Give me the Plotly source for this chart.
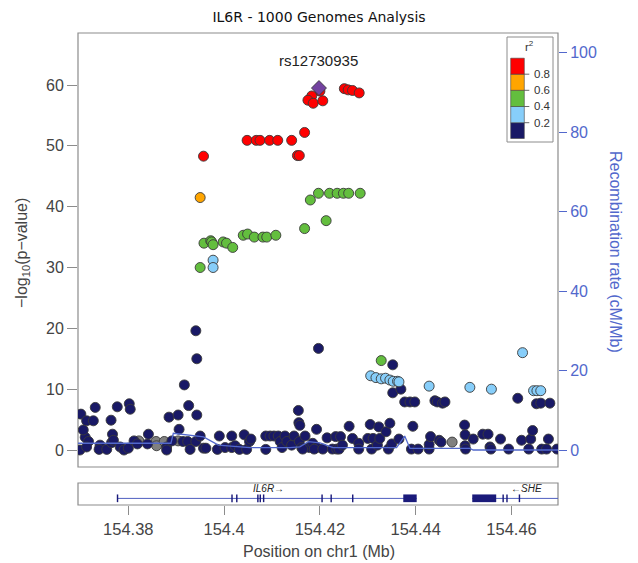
import plotly.graph_objects as go

# ---------------- data ----------------
navy_pos = [154.3699,154.3710,154.3717,154.3713,154.3706,154.3701,154.3731,154.3713,154.3727,154.3741,
            154.3739,154.3755,154.3764,154.3767,154.3765,154.3769,154.3777,154.3783,154.3791,154.3800,
            154.3802,154.3804,154.3812,154.3819,154.3840,154.3842,154.3880,154.3880,154.3885,154.3891,
            154.3904,154.3906,154.3914,154.3917,154.3924,154.3926,154.3929,154.3941,154.3943,154.3943,
            154.3941,154.3950,154.3957,154.3962,154.3986,154.3990,154.4002,154.4016,154.4016,154.4023,
            154.4032,154.4042,154.4047,154.4053,154.4056,154.4087,154.4087,154.4096,154.4104,154.4113,
            154.4117,154.4121,154.4127,154.4131,154.4141,154.4146,154.4155,154.4156,154.4158,154.4157,
            154.4162,154.4169,154.4178,154.4185,154.4193,154.4193,154.4197,154.4164,154.4188,154.4206,
            154.4226,154.4235,154.4240,154.4215,154.4233,154.4243,154.4247,154.4261,154.4268,154.4281,
            154.4281,154.4300,154.4305,154.4308,154.4311,154.4320,154.4323,154.4325,154.4338,154.4343,
            154.4346,154.4350,154.4352,154.4352,154.4365,154.4369,154.4377,154.4388,154.4398,154.4391,
            154.4394,154.4405,154.4428,154.4428,154.4431,154.4440,154.4445,154.4456,154.4461,154.4449,
            154.4453,154.4502,154.4503,154.4503,154.4504,154.4520,154.4540,154.4551,154.4555,154.4557,
            154.4577,154.4594,154.4613,154.4621,154.4636,154.4640,154.4644,154.4652,154.4661,154.4680,
            154.4663,154.4673,154.4677,154.4695]
navy_logp = [0.0,2.1,1.4,0.5,3.3,5.9,7.0,4.8,4.8,0.8,
             0.1,0.1,4.9,2.6,1.2,1.6,7.1,0.5,0.0,0.3,
             7.6,6.7,1.5,1.0,1.0,2.6,0.5,0.0,5.4,1.5,
             5.75,3.4,1.4,10.7,1.4,7.3,0.1,19.6,15.0,5.75,
             1.4,2.3,0.3,0.3,0.1,2.3,0.4,2.3,0.4,0.7,
             0.1,2.5,0.1,1.4,1.8,2.3,0.1,2.3,2.3,2.3,
             1.4,0.4,2.3,1.4,0.8,2.3,6.5,4.5,4.05,1.4,
             0.4,2.3,0.4,1.1,0.4,3.4,16.7,0.15,0.15,0.15,
             0.15,0.15,0.15,2.0,2.2,2.2,0.8,3.9,1.9,1.1,
             0.15,1.9,4.2,0.15,1.9,0.8,3.8,1.9,3.0,0.15,
             4.4,1.0,14.0,9.4,1.8,10.0,7.9,7.9,7.9,0.15,
             3.9,0.15,0.15,0.9,2.2,8.1,7.9,7.7,7.9,1.6,
             1.3,4.1,2.5,0.7,0.15,1.8,2.6,2.6,0.5,0.15,
             1.8,0.15,8.5,1.6,0.15,1.8,3.2,7.6,7.7,7.7,
             0.15,0.15,1.8,0.15]

gray_pos = [154.3822,154.3858,154.3859,154.3875,154.3904,154.4476]
gray_logp = [1.5,1.4,0.7,1.4,1.5,1.3]

lblue_pos = [154.3977,154.3977,154.4306,154.4317,154.4328,154.4337,154.4346,154.4353,154.4362,154.4365,
             154.4428,154.4513,154.4558,154.4623,154.4646,154.4653,154.4661]
lblue_logp = [31.2,30.0,12.2,11.9,11.7,11.8,11.5,11.3,11.3,11.2,
              10.5,10.3,10.0,16.0,9.75,9.75,9.75]

green_pos = [154.4328,154.4180,154.4197,154.4220,154.4236,154.4249,154.4260,154.4284,154.4213,154.4168,
             154.4040,154.4049,154.4063,154.4081,154.4089,154.4108,154.3958,154.3972,154.3974,154.3977,
             154.3998,154.4005,154.4018,154.3950]
green_logp = [14.7,41.1,42.2,42.2,42.2,42.2,42.2,42.2,37.7,36.4,
              35.3,35.5,35.0,35.0,35.0,35.3,34.0,34.4,34.2,33.75,
              34.2,34.0,33.3,30.0]

orange_pos = [154.3950]
orange_logp = [41.5]

red_pos = [154.3957,154.4200,154.4183,154.4175,154.4186,154.4206,154.4251,154.4259,154.4268,154.4282,
           154.4048,154.4067,154.4075,154.4095,154.4112,154.4141,154.4168,154.4153,154.4157]
red_logp = [48.3,59.0,58.2,57.5,57.0,57.4,59.4,59.2,59.1,58.7,
            50.9,50.9,50.9,50.9,50.9,50.9,52.2,48.4,48.4]

lead_snp = "rs12730935"
lead_pos = [154.4198]
lead_logp = [59.5]

recomb_pos = [154.3695,154.3889,154.3894,154.3920,154.3957,154.3988,154.4054,154.4137,154.4158,154.4176,
              154.4200,154.4213,154.4227,154.4360,154.4377,154.4388,154.4513,154.4520,154.4697]
recomb_rate = [1.7,1.7,4.2,3.8,3.3,1.25,0.6,0.6,0.8,2.1,
               1.8,1.25,0.6,0.6,3.5,0.4,0.4,0.0,0.0]

genes = ["IL6R", "SHE"]
gene_start = [154.3777, 154.4518]
gene_end = [154.4402, 154.4745]
gene_strand = ["+", "-"]
gene_label_pos = [154.4092, 154.4632]
exon_starts = [[154.3776,154.4015,154.4025,154.4069,154.4074,154.4081,154.4203,154.4222,154.4267,154.4374],
               [154.4518,154.4581,154.4589,154.4615]]
exon_ends = [[154.3779,154.4018,154.4028,154.4072,154.4077,154.4084,154.4206,154.4225,154.4270,154.4402],
             [154.4568,154.4584,154.4592,154.4618]]

ld_colors = ["#191966", "#87CEFA", "#63BE3E", "#FFA500", "#FF0000"]
ld_labels = ["0.2", "0.4", "0.6", "0.8"]
x_ticks = [154.38, 154.40, 154.42, 154.44, 154.46]
x_ticktext = ["154.38", "154.4", "154.42", "154.44", "154.46"]
y_ticks = [0, 10, 20, 30, 40, 50, 60]
recomb_ticks = [0, 20, 40, 60, 80, 100]

# ---------------- layout geometry ----------------
W, H = 638, 563
ML, MR, MT, MB = 78, 80, 33, 58
PW, PH = W - ML - MR, H - MT - MB
X_RANGE = [154.3695, 154.4697]
FONT = "Liberation Sans, Arial"


def px(xp):
    return (xp - ML) / PW


def py(yp):
    return (H - MB - yp) / PH


main_bottom = py(467)
gene_top = py(483)

fig = go.Figure()

RECOMB_COLOR = "#5268CC"
fig.add_trace(go.Scatter(x=recomb_pos, y=recomb_rate, mode="lines", yaxis="y3",
                         line=dict(color=RECOMB_COLOR, width=1.3), hoverinfo="skip", showlegend=False))

def add_pts(xs, ys, color, symbol="circle", size=10):
    fig.add_trace(go.Scatter(x=xs, y=ys, mode="markers", yaxis="y", showlegend=False,
                             marker=dict(color=color, size=size, symbol=symbol,
                                         line=dict(color="#3a3a3a", width=0.9))))

add_pts(gray_pos, gray_logp, "#808080")
add_pts(navy_pos, navy_logp, ld_colors[0])
add_pts(lblue_pos, lblue_logp, ld_colors[1])
add_pts(green_pos, green_logp, ld_colors[2])
add_pts(orange_pos, orange_logp, ld_colors[3])
add_pts(red_pos, red_logp, ld_colors[4])
add_pts(lead_pos, lead_logp, "#7342A0", symbol="diamond", size=11.5)

shapes = []
FRAME = "#8c8c8c"
shapes.append(dict(type="rect", xref="paper", yref="paper", x0=0, x1=1, y0=main_bottom, y1=1,
                   line=dict(color=FRAME, width=1.2), layer="below"))
shapes.append(dict(type="rect", xref="paper", yref="paper", x0=0, x1=1, y0=0, y1=gene_top,
                   line=dict(color=FRAME, width=1.2), layer="below"))

GENE_COLOR = "#1a1a7a"
annotations = []
for g in range(len(genes)):
    x0 = max(gene_start[g], X_RANGE[0])
    x1 = min(gene_end[g], X_RANGE[1])
    shapes.append(dict(type="line", xref="x", yref="y2", x0=x0, x1=x1, y0=0.3, y1=0.3,
                       line=dict(color="#4F5FC0", width=1)))
    for s, e in zip(exon_starts[g], exon_ends[g]):
        shapes.append(dict(type="rect", xref="x", yref="y2", x0=s, x1=min(e, X_RANGE[1]), y0=0.13, y1=0.48,
                           fillcolor=GENE_COLOR, line=dict(width=0)))
    lab = genes[g] + "→" if gene_strand[g] == "+" else "←" + genes[g]
    annotations.append(dict(x=gene_label_pos[g], y=0.73, xref="x", yref="y2", text="<i>" + lab + "</i>",
                            showarrow=False, font=dict(family=FONT, size=10, color="#222"),
                            xanchor="center", yanchor="middle"))

# r2 legend
lx0, lx1 = 510.7, 524.3
band_edges = [138.5, 122.7, 106.5, 90.3, 74.2, 58.2]
shapes.append(dict(type="rect", xref="paper", yref="paper", x0=px(507), x1=px(553), y0=py(142), y1=py(37),
                   line=dict(color=FRAME, width=1), fillcolor="white"))
for i, c in enumerate(ld_colors):
    shapes.append(dict(type="rect", xref="paper", yref="paper", x0=px(lx0), x1=px(lx1),
                       y0=py(band_edges[i]), y1=py(band_edges[i + 1]), fillcolor=c,
                       line=dict(color="#444", width=0.6)))
for i, lab in enumerate(ld_labels):
    yy = band_edges[i + 1]
    shapes.append(dict(type="line", xref="paper", yref="paper", x0=px(lx1), x1=px(lx1 + 5),
                       y0=py(yy), y1=py(yy), line=dict(color="#444", width=0.8)))
    annotations.append(dict(x=px(532), y=py(yy), xref="paper", yref="paper", text=lab, showarrow=False,
                            xanchor="left", yanchor="middle",
                            font=dict(family=FONT, size=11.5, color="#333")))
annotations.append(dict(x=px(529), y=py(46), xref="paper", yref="paper", text="r<sup>2</sup>", showarrow=False,
                        xanchor="center", yanchor="middle",
                        font=dict(family=FONT, size=11.5, color="#333")))

# lead SNP label
annotations.append(dict(x=lead_pos[0], y=64.1, xref="x", yref="y", text=lead_snp, showarrow=False,
                        font=dict(family=FONT, size=15, color="#222")))

# axis titles
annotations.append(dict(x=px(22), y=py(253), xref="paper", yref="paper", text="−log<sub>10</sub>(p−value)",
                        textangle=-90, showarrow=False, xanchor="center", yanchor="middle",
                        font=dict(family=FONT, size=16, color="#444")))
annotations.append(dict(x=px(616), y=py(252), xref="paper", yref="paper", text="Recombination rate (cM/Mb)",
                        textangle=90, showarrow=False, xanchor="center", yanchor="middle",
                        font=dict(family=FONT, size=16, color=RECOMB_COLOR)))
annotations.append(dict(x=px(319), y=py(551), xref="paper", yref="paper", text="Position on chr1 (Mb)",
                        showarrow=False, xanchor="center", yanchor="middle",
                        font=dict(family=FONT, size=16, color="#444")))

y_lo = -17 / 6.0833
y_hi = 417 / 6.0833
r_lo = -17 / 3.972
r_hi = 417 / 3.972

fig.update_layout(
    width=W, height=H, margin=dict(l=ML, r=MR, t=MT, b=MB, autoexpand=False),
    paper_bgcolor="white", plot_bgcolor="white",
    title=dict(text="IL6R - 1000 Genomes Analysis", x=0.5, xref="container", xanchor="center",
               y=1 - 17 / H, yref="container", yanchor="middle",
               font=dict(family="DejaVu Sans, Verdana", size=14, color="#111")),
    xaxis=dict(domain=[0, 1], range=X_RANGE, anchor="y2", tickvals=x_ticks, ticktext=x_ticktext,
               ticks="outside", ticklen=9, tickcolor=FRAME, tickwidth=1, showgrid=False, zeroline=False,
               showline=False, tickfont=dict(family=FONT, size=16.5, color="#444")),
    yaxis=dict(domain=[main_bottom, 1], range=[y_lo, y_hi], anchor="x", tickvals=y_ticks,
               ticks="outside", ticklen=10, tickcolor=FRAME, tickwidth=1, showgrid=False, zeroline=False,
               showline=False, tickfont=dict(family=FONT, size=16, color="#444")),
    yaxis2=dict(domain=[0, gene_top], range=[0, 1], anchor="x", visible=False, fixedrange=True),
    yaxis3=dict(overlaying="y", side="right", anchor="x", range=[r_lo, r_hi], tickvals=recomb_ticks,
                ticks="outside", ticklen=8, tickcolor=RECOMB_COLOR, tickwidth=1, showgrid=False,
                zeroline=False, showline=False,
                tickfont=dict(family=FONT, size=16, color=RECOMB_COLOR)),
    shapes=shapes, annotations=annotations, showlegend=False,
)

fig.write_html("out.html")
